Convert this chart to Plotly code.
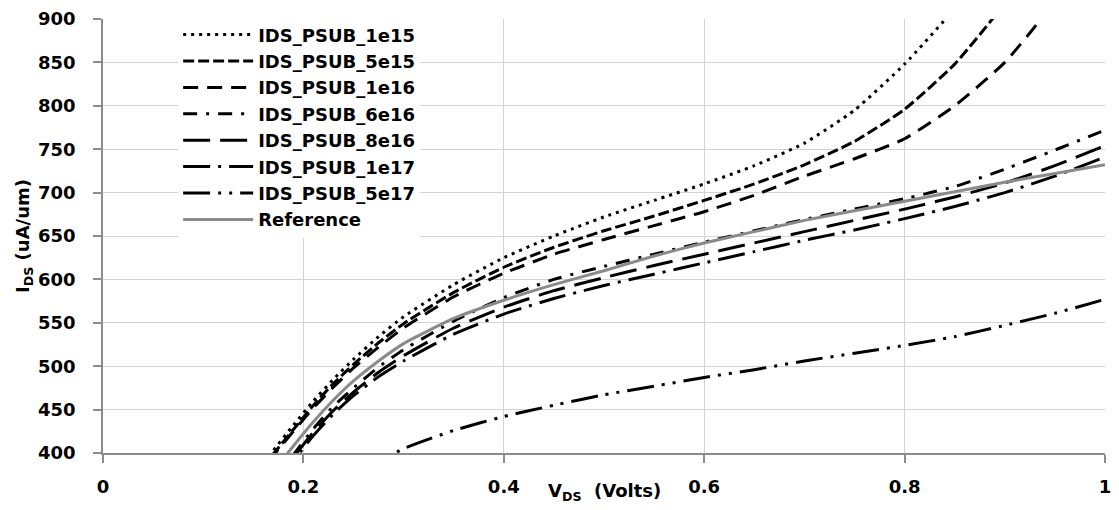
import plotly.graph_objects as go

vds = [0.15, 0.17, 0.19, 0.21, 0.23, 0.25, 0.275, 0.3, 0.35, 0.4, 0.45, 0.5,
       0.55, 0.6, 0.65, 0.7, 0.75, 0.8, 0.85, 0.9, 0.95, 1.0]

ids_1e15 = [375, 403, 432, 460, 485, 508, 534, 557, 594, 625, 650, 672,
            691, 710, 731, 757, 795, 848, 912, 985, 1065, 1150]
ids_5e15 = [371, 399, 427, 455, 480, 502, 527, 549, 585, 614, 637, 656,
            673, 691, 710, 732, 759, 796, 848, 918, 1000, 1090]
ids_1e16 = [369, 397, 425, 452, 476, 498, 522, 544, 580, 607, 629, 646,
            662, 678, 697, 719, 739, 762, 800, 850, 920, 1000]
ids_6e16 = [330, 365, 398, 428, 454, 475, 499, 519, 552, 579, 600, 615,
            629, 643, 656, 669, 681, 693, 707, 727, 749, 772]
ids_8e16 = [328, 362, 395, 424, 449, 470, 493, 512, 544, 568, 587, 602,
            616, 629, 642, 655, 668, 681, 695, 711, 731, 754]
ids_1e17 = [325, 359, 391, 420, 445, 466, 488, 506, 537, 560, 578, 593,
            606, 619, 632, 645, 657, 670, 684, 700, 719, 741]
ids_5e17 = [320, 333, 345, 356, 367, 377, 390, 405, 426, 442, 455, 467,
            477, 487, 496, 506, 515, 524, 534, 547, 561, 577]
ids_ref = [345, 378, 408, 436, 461, 483, 506, 526, 555, 576, 594, 610,
           627, 642, 655, 668, 679, 690, 701, 712, 722, 732]

series = [
    ("IDS_PSUB_1e15", ids_1e15, "black", "3px,5px"),
    ("IDS_PSUB_5e15", ids_5e15, "black", "11px,4px"),
    ("IDS_PSUB_1e16", ids_1e16, "black", "15px,9px"),
    ("IDS_PSUB_6e16", ids_6e16, "black", "14px,9px,3px,9px"),
    ("IDS_PSUB_8e16", ids_8e16, "black", "27px,10px"),
    ("IDS_PSUB_1e17", ids_1e17, "black", "27px,8px,3px,8px"),
    ("IDS_PSUB_5e17", ids_5e17, "black", "27px,8px,3px,8px,3px,8px"),
    ("Reference", ids_ref, "#8a8a8a", "solid"),
]

FONT = "DejaVu Sans"

fig = go.Figure()
for name, vals, color, dash in series:
    fig.add_trace(go.Scatter(
        x=vds, y=vals, name=name, mode="lines",
        line=dict(color=color, width=3, dash=dash, shape="spline", smoothing=0.5),
    ))

axis_common = dict(
    showgrid=True, gridcolor="#d3d3d3", gridwidth=1,
    showline=True, linecolor="#8c8c8c", linewidth=1.5,
    ticks="outside", tickcolor="#8c8c8c", ticklen=8, tickwidth=1.5,
    tickfont=dict(family=FONT, size=18, color="black", weight="bold"),
    zeroline=False,
)

fig.update_layout(
    width=1119, height=510,
    margin=dict(l=103, r=8, t=16, b=57),
    paper_bgcolor="white", plot_bgcolor="white",
    showlegend=True,
    legend=dict(
        x=0.075, y=1.006, xanchor="left", yanchor="top",
        bgcolor="white", borderwidth=0,
        font=dict(family=FONT, size=18, color="black", weight="bold"),
        itemwidth=70,
        tracegroupgap=0,
    ),
    xaxis=dict(range=[0, 1], tickvals=[0, 0.2, 0.4, 0.6, 0.8, 1.0],
               ticktext=["0", "0.2", "0.4", "0.6", "0.8", "1"],
               ticklabelstandoff=9, **axis_common),
    yaxis=dict(range=[400, 900], dtick=50, tick0=400,
               ticklabelstandoff=14,
               title=dict(text="I<sub>DS</sub> (uA/um)", standoff=4,
                          font=dict(family=FONT, size=18, color="black", weight="bold")),
               **axis_common),
    annotations=[dict(
        text="V<sub>DS</sub>&nbsp; (Volts)", xref="paper", yref="paper",
        x=0.5, y=-0.09, xanchor="center", yanchor="middle", showarrow=False,
        font=dict(family=FONT, size=18, color="black", weight="bold"),
    )],
)

fig.write_html("out.html")
